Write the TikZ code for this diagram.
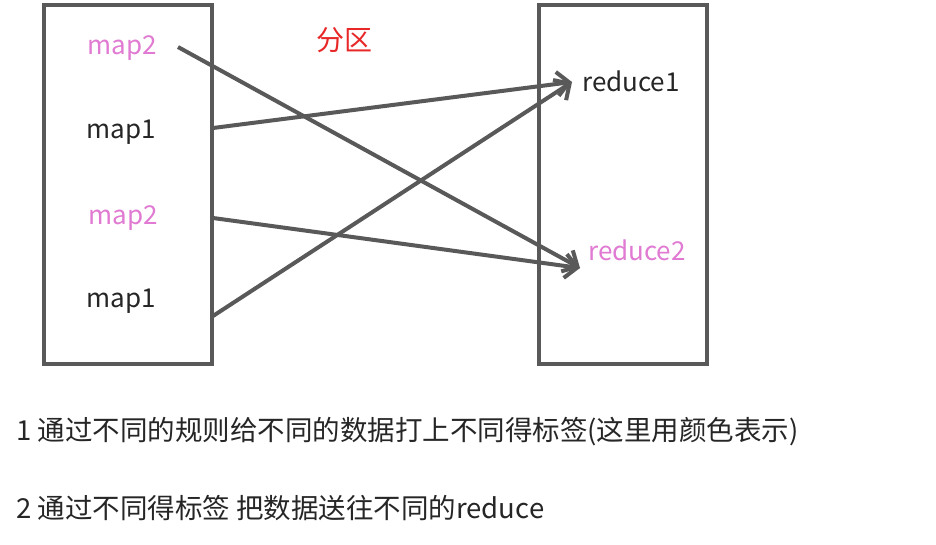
\documentclass[tikz,border=0pt]{standalone}
\usepackage{fontspec}
\setmainfont{Noto Sans CJK SC}
\usetikzlibrary{arrows.meta}
\definecolor{edge}{RGB}{89,89,89}
\definecolor{pinktxt}{RGB}{224,122,210}
\definecolor{redtxt}{RGB}{232,40,40}
\tikzset{
  boxshape/.style={draw=edge, line width=4pt, fill=white, outer sep=0pt},
  lbl/.style={font=\fontsize{26}{30}\selectfont, inner sep=0pt, anchor=center},
  conn/.style={draw=edge, line width=4pt, -{Straight Barb[length=12pt,width=24pt,line width=4pt]}},
  note/.style={font=\fontsize{27.5}{32}\selectfont, inner sep=0pt, anchor=west, text=black!85}
}
\begin{document}
\begin{tikzpicture}[x=1pt,y=-1pt]
\useasboundingbox (0,0) rectangle (936,544);
\fill[white] (0,0) rectangle (936,544);
\node[boxshape, minimum width=168pt, minimum height=359pt, anchor=north west] (lbox) at (44,5) {};
\node[boxshape, minimum width=168pt, minimum height=359pt, anchor=north west] (rbox) at (539,5) {};
\node[lbl, text=pinktxt] (m2a) at (122,48) {map2};
\node[lbl, text=black!85] (m1a) at (121,132) {map1};
\node[lbl, text=pinktxt] (m2b) at (123,218) {map2};
\node[lbl, text=black!85] (m1b) at (121,301) {map1};
\node[lbl, text=black!85] (r1) at (631,81) {reduce1};
\node[lbl, text=pinktxt] (r2) at (637,250) {reduce2};
\node[lbl, text=redtxt, font=\fontsize{28}{32}\selectfont] (part) at (344,40) {分区};
\coordinate (s1) at (178,47);
\coordinate (s2) at (213,128);
\coordinate (s3) at (213,218);
\coordinate (s4) at (213,316);
\coordinate (e1) at (572,82);
\coordinate (e2) at (580,268);
\draw[conn] (s1) -- (e2);
\draw[conn] (s2) -- (e1);
\draw[conn] (s3) -- (e2);
\draw[conn] (s4) -- (e1);
\node[note] (n1) at (16,432) {1 通过不同的规则给不同的数据打上不同得标签(这里用颜色表示)};
\node[note] (n2) at (16,508) {2 通过不同得标签 把数据送往不同的reduce};
\end{tikzpicture}
\end{document}
